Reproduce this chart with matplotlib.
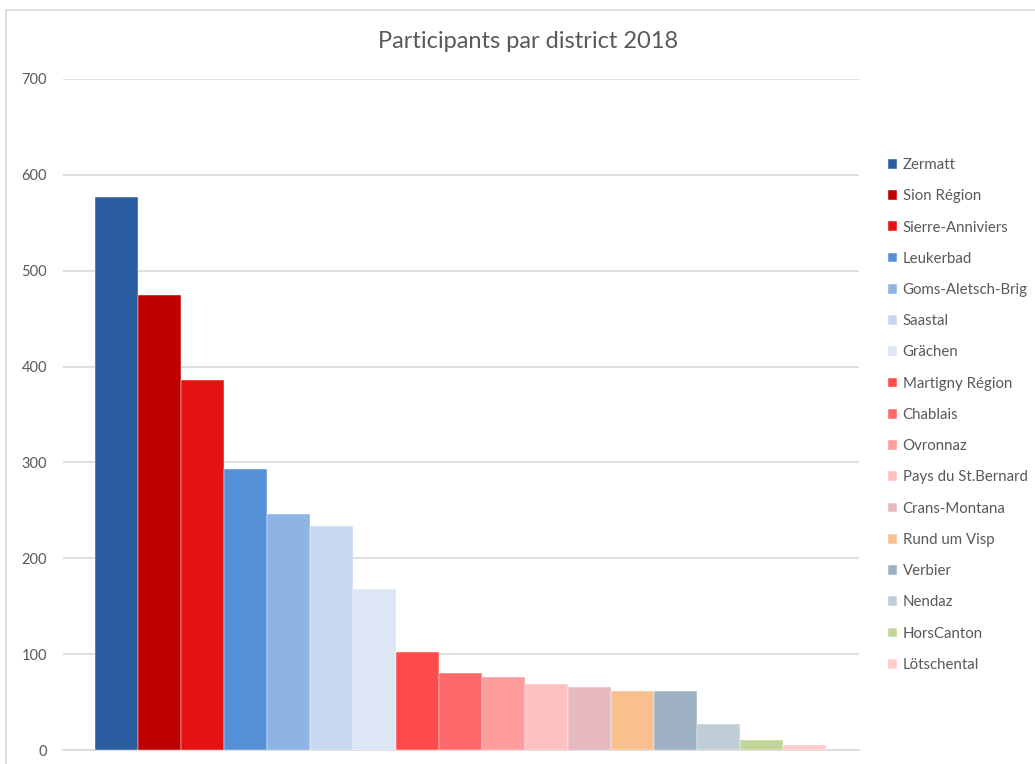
import matplotlib.pyplot as plt
from matplotlib.patches import Rectangle
import numpy as np

districts = ['Zermatt', 'Sion Région', 'Sierre-Anniviers', 'Leukerbad', 'Goms-Aletsch-Brig',
             'Saastal', 'Grächen', 'Martigny Région', 'Chablais', 'Ovronnaz',
             'Pays du St.Bernard', 'Crans-Montana', 'Rund um Visp', 'Verbier', 'Nendaz',
             'HorsCanton', 'Lötschental']
participants = [577, 475, 386, 293, 246, 234, 168, 102, 80, 76, 69, 66, 62, 62, 27, 10, 5]
colors = ['#2A5D9F', '#C00000', '#E61212', '#5690D6', '#8EB4E3', '#C6D9F1', '#DCE6F4',
          '#FF4B4B', '#FF6969', '#FF9C9C', '#FFC0C0', '#E6B8C0', '#F8C08E', '#9CB0C2',
          '#BFCDD7', '#C3D69A', '#FFCCCC']

plt.rcParams['font.family'] = ['Lato', 'DejaVu Sans']

fig = plt.figure(figsize=(10.35, 7.64), dpi=100)
ax = fig.add_axes([63 / 1035, 1 - 750 / 764, (859 - 63) / 1035, (750 - 79) / 764])

x = np.arange(len(districts))
for i in range(len(districts)):
    ax.bar(x[i], participants[i], width=1.0, color=colors[i], label=districts[i],
           edgecolor='white', linewidth=0.3, zorder=3)

ax.set_ylim(0, 700)
ax.set_xlim(-0.5 - 32 / 43.3, 16.5 + 33 / 43.3)
ax.set_yticks(range(0, 701, 100))
ax.set_xticks([])
ax.grid(axis='y', color='#D9D9D9', linewidth=1.2, zorder=0)
for s in ['top', 'right', 'left']:
    ax.spines[s].set_visible(False)
ax.spines['bottom'].set_color('#D9D9D9')
ax.spines['bottom'].set_linewidth(1.2)
ax.tick_params(axis='y', length=0, pad=11.5, labelsize=10.5, labelcolor='#595959')

fig.text(528 / 1035, 1 - 42 / 764, 'Participants par district 2018', ha='center', va='center',
         fontsize=17, color='#595959')

leg = ax.legend(loc='upper left', bbox_to_anchor=(882 / 1035, 1 - 152 / 764),
                bbox_transform=fig.transFigure, frameon=False, fontsize=10.8,
                handlelength=0.62, handleheight=0.62, handletextpad=0.35,
                labelspacing=1.15, borderaxespad=0)
for t in leg.get_texts():
    t.set_color('#595959')

fig.patches.append(Rectangle((6 / 1035, -0.1), 1.1, 1.1 - 10 / 764, transform=fig.transFigure,
                             fill=False, edgecolor='#D9D9D9', linewidth=1.2))

fig.savefig('out.png', dpi=100)
